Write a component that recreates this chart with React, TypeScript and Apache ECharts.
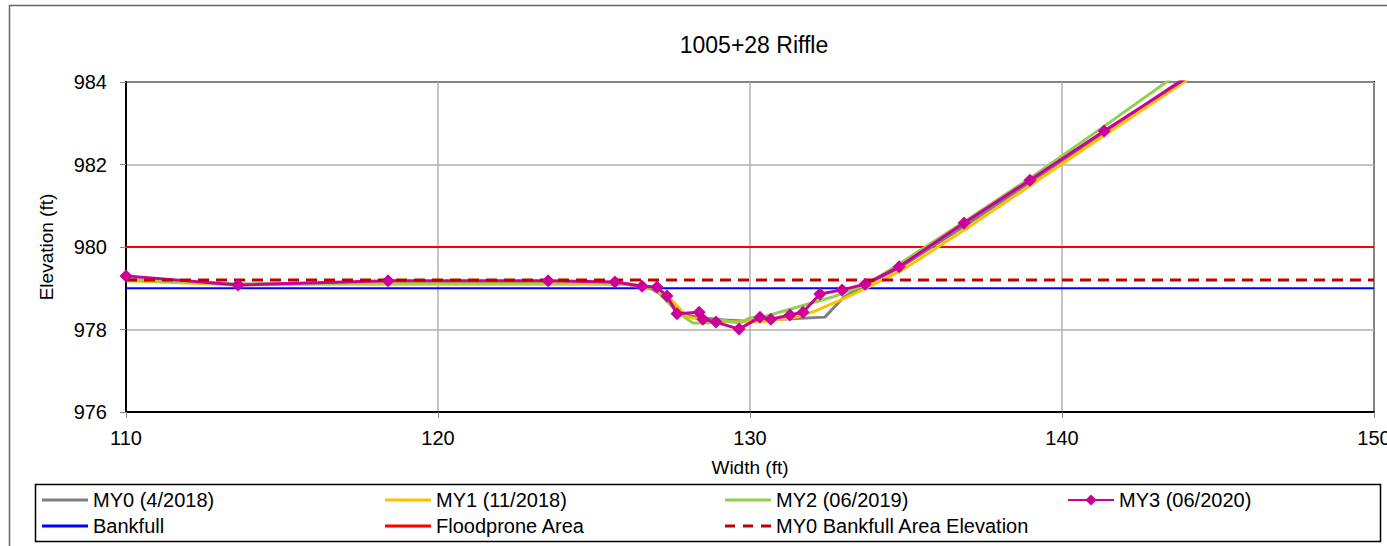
import React, { useEffect, useRef } from "react";
import * as echarts from "echarts";

// Width (ft), Elevation (ft)
const my0: number[][] = [
  [110, 979.22], [113.6, 979.1], [118.4, 979.12], [123.5, 979.12], [126.0, 979.1],
  [126.8, 979.0], [127.4, 978.75], [127.9, 978.35], [128.5, 978.28], [129.2, 978.23],
  [129.9, 978.2], [131.0, 978.25], [132.4, 978.3], [133.0, 978.78], [133.7, 979.08],
  [134.8, 979.5], [136.9, 980.52], [139.0, 981.58], [141.4, 982.78], [144.5, 984.4],
];
const my1: number[][] = [
  [110, 979.18], [113.6, 979.08], [118.4, 979.1], [123.5, 979.1], [126.0, 979.1],
  [127.0, 979.0], [127.5, 978.7], [128.0, 978.3], [128.6, 978.22], [129.5, 978.18],
  [130.5, 978.2], [131.5, 978.3], [132.1, 978.45], [133.0, 978.75], [133.8, 979.03],
  [134.9, 979.45], [137.0, 980.48], [139.1, 981.55], [141.4, 982.73], [144.5, 984.3],
];
const my2: number[][] = [
  [110, 979.2], [113.6, 979.1], [118.4, 979.13], [123.5, 979.13], [126.0, 979.12],
  [126.9, 979.02], [127.7, 978.4], [128.17, 978.16], [128.72, 978.16], [129.04, 978.23],
  [129.68, 978.16], [130.0, 978.28], [130.5, 978.32], [132.7, 978.8], [133.8, 979.12],
  [134.8, 979.6], [136.9, 980.63], [139.0, 981.68], [141.3, 982.9], [144.0, 984.35],
];
const my3: number[][] = [
  [110, 979.3], [113.59, 979.08], [118.4, 979.18], [123.53, 979.18], [125.67, 979.15],
  [126.54, 979.05], [127.02, 979.03], [127.34, 978.81], [127.66, 978.38], [128.37, 978.42],
  [128.49, 978.25], [128.91, 978.18], [129.65, 978.01], [130.32, 978.3], [130.67, 978.25],
  [131.28, 978.35], [131.7, 978.42], [132.24, 978.86], [132.95, 978.96], [133.69, 979.1],
  [134.78, 979.52], [136.86, 980.58], [138.97, 981.62], [141.35, 982.81], [144.5, 984.35],
];
const bankfull = 979.0;
const floodprone = 980.0;
const my0BankfullElev = 979.2;
const xRange = [110, 150];
const yRange = [976, 984];

const FONT = "'Liberation Sans', Arial, sans-serif";
const LINE_ICON = "path://M0,0H46V3H0Z";
const DASH_ICON = "path://M0,0H10V3H0Z M18,0H28V3H18Z M36,0H46V3H36Z";

export default function App() {
  const ref = useRef<HTMLDivElement>(null);
  useEffect(() => {
    document.body.style.margin = "0";
    const chart = echarts.init(ref.current!, null, { renderer: "svg" });
    const flat = (v: number) => [[xRange[0], v], [xRange[1], v]];
    const my3Data = my3.map((p, i) =>
      i === my3.length - 1 ? { value: p, symbol: "none" } : { value: p }
    );
    const legendCommon = {
      itemWidth: 46,
      itemHeight: 12,
      itemGap: 0,
      padding: 0,
      selectedMode: false,
      textStyle: { fontSize: 20, fontFamily: FONT, color: "#000" },
    };
    chart.setOption({
      animation: false,
      backgroundColor: "#fff",
      title: {
        text: "1005+28 Riffle",
        left: 754,
        top: 33,
        padding: 0,
        textAlign: "center",
        textStyle: { fontSize: 23, fontWeight: "normal", color: "#000", fontFamily: FONT },
      },
      grid: {
        left: 126,
        top: 82,
        width: 1248,
        height: 330,
        outerBoundsMode: "none",
        containLabel: false,
        show: true,
        borderColor: "#000",
        borderWidth: 2,
        backgroundColor: "transparent",
      },
      xAxis: {
        type: "value",
        min: xRange[0],
        max: xRange[1],
        interval: 10,
        name: "Width (ft)",
        nameLocation: "middle",
        nameGap: 46,
        nameTextStyle: { fontSize: 19, fontFamily: FONT, color: "#000" },
        axisLine: { show: true, lineStyle: { color: "#000", width: 2 } },
        axisTick: { show: true, inside: false, length: 6, lineStyle: { color: "#888" } },
        axisLabel: { margin: 16, fontSize: 20, fontFamily: FONT, color: "#000" },
        splitLine: { show: true, lineStyle: { color: "#B0B0B0", width: 1.5 } },
      },
      yAxis: {
        type: "value",
        min: yRange[0],
        max: yRange[1],
        interval: 2,
        name: "Elevation (ft)",
        nameLocation: "middle",
        nameGap: 70,
        nameRotate: 90,
        nameTextStyle: { fontSize: 19, fontFamily: FONT, color: "#000" },
        axisLine: { show: true, lineStyle: { color: "#000", width: 2 } },
        axisTick: { show: true, inside: false, length: 6, lineStyle: { color: "#888" } },
        axisLabel: { margin: 19, fontSize: 20, fontFamily: FONT, color: "#000" },
        splitLine: { show: true, lineStyle: { color: "#B0B0B0", width: 1.5 } },
      },
      legend: [
        { ...legendCommon, data: [{ name: "MY0 (4/2018)", icon: LINE_ICON }], left: 42, top: 490 },
        { ...legendCommon, data: [{ name: "MY1 (11/2018)", icon: LINE_ICON }], left: 385, top: 490 },
        { ...legendCommon, data: [{ name: "MY2 (06/2019)", icon: LINE_ICON }], left: 725, top: 490 },
        { ...legendCommon, itemHeight: 14, data: ["MY3 (06/2020)"], left: 1067, top: 490 },
        { ...legendCommon, data: [{ name: "Bankfull", icon: LINE_ICON }], left: 42, top: 516 },
        { ...legendCommon, data: [{ name: "Floodprone Area", icon: LINE_ICON }], left: 385, top: 516 },
        { ...legendCommon, data: [{ name: "MY0 Bankfull Area Elevation", icon: DASH_ICON }], left: 725, top: 516 },
      ],
      graphic: [
        {
          type: "rect",
          silent: true,
          z: -10,
          shape: { x: 9.5, y: 5.5, width: 1400, height: 560 },
          style: { fill: "none", stroke: "#666", lineWidth: 1.5 },
        },
        {
          type: "rect",
          silent: true,
          shape: { x: 35.5, y: 484.5, width: 1345, height: 57 },
          style: { fill: "none", stroke: "#000", lineWidth: 1.5 },
        },
      ],
      series: [
        {
          name: "MY0 (4/2018)", type: "line", data: my0, symbol: "none", z: 2,
          color: "#808080", lineStyle: { color: "#808080", width: 3 },
        },
        {
          name: "MY1 (11/2018)", type: "line", data: my1, symbol: "none", z: 2,
          color: "#FFC000", lineStyle: { color: "#FFC000", width: 3 },
        },
        {
          name: "MY2 (06/2019)", type: "line", data: my2, symbol: "none", z: 2,
          color: "#92D050", lineStyle: { color: "#92D050", width: 3 },
        },
        {
          name: "MY3 (06/2020)", type: "line", data: my3Data, symbol: "diamond", symbolSize: 13, z: 2,
          color: "#CC0099", itemStyle: { color: "#CC0099" }, lineStyle: { color: "#CC0099", width: 3 },
        },
        {
          name: "Bankfull", type: "line", data: flat(bankfull), symbol: "none", z: 1,
          color: "#0000FF", lineStyle: { color: "#0000FF", width: 2 },
        },
        {
          name: "Floodprone Area", type: "line", data: flat(floodprone), symbol: "none", z: 1,
          color: "#FF0000", lineStyle: { color: "#FF0000", width: 2 },
        },
        {
          name: "MY0 Bankfull Area Elevation", type: "line", data: flat(my0BankfullElev), symbol: "none", z: 2,
          color: "#C00000", lineStyle: { color: "#C00000", width: 3, type: [11, 7] },
        },
      ],
    });
    return () => chart.dispose();
  }, []);
  return <div ref={ref} style={{ width: 1387, height: 546 }} />;
}
